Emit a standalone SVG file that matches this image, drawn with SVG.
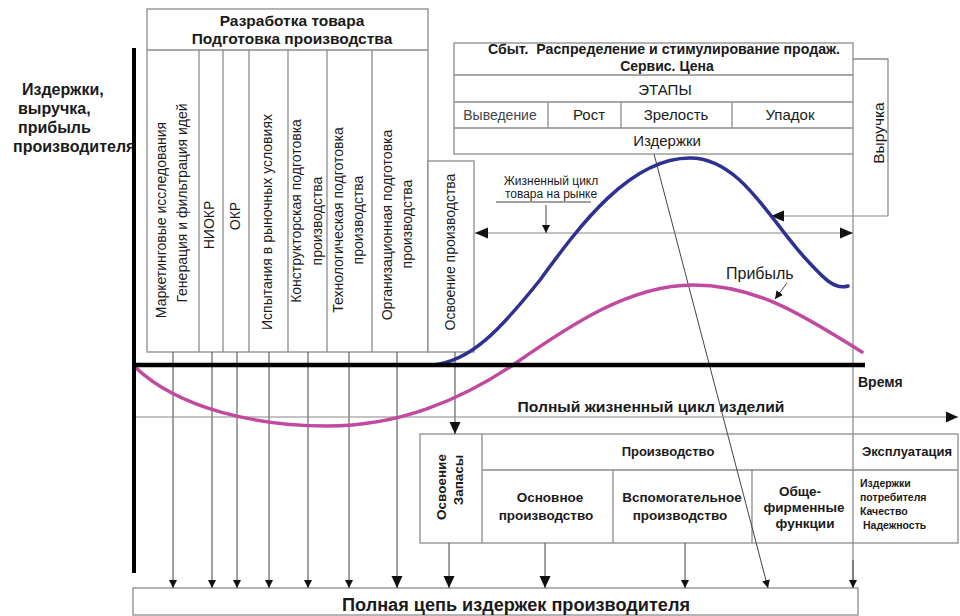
<svg xmlns="http://www.w3.org/2000/svg" width="960" height="616" viewBox="0 0 960 616">
<style>
text{font-family:"Liberation Sans",Arial,sans-serif;fill:#1a1a1a}
.b{font-weight:bold}
.box{fill:#fff;stroke:#8c8c8c;stroke-width:1.3}
.div{stroke:#8c8c8c;stroke-width:1.3;fill:none}
.ln{stroke:#444;stroke-width:1;fill:none}
.gl{stroke:#888;stroke-width:1.2;fill:none}
.rt{font-size:14px;text-anchor:middle}
.c{text-anchor:middle}
</style>
<defs>
<marker id="as" markerUnits="userSpaceOnUse" markerWidth="8" markerHeight="9" viewBox="0 0 8 9" refX="8" refY="4.5" orient="auto"><path d="M0,0.5 L8,4.5 L0,8.5 z" fill="#111"/></marker>
<marker id="ab" markerUnits="userSpaceOnUse" markerWidth="12" markerHeight="12" viewBox="0 0 12 12" refX="12" refY="6" orient="auto"><path d="M0,0.5 L12,6 L0,11.5 z" fill="#111"/></marker>
<marker id="ad" markerUnits="userSpaceOnUse" markerWidth="13" markerHeight="12" viewBox="0 0 13 12" refX="13" refY="6" orient="auto-start-reverse"><path d="M0,0.5 L13,6 L0,11.5 z" fill="#111"/></marker>
</defs>
<rect width="960" height="616" fill="#fff"/>

<g id="y-label" class="b" font-size="16">
<text x="22" y="95">Издержки,</text>
<text x="18" y="114">выручка,</text>
<text x="18" y="133">прибыль</text>
<text x="13" y="152">производителя</text>
</g>

<g id="product-development">
<rect class="box" x="147" y="9" width="281" height="343"/>
<path class="div" d="M147,50 H428 M199,50 V352 M223,50 V352 M249,50 V352 M288,50 V352 M327,50 V352 M372,50 V352"/>
<text class="b c" x="292" y="26" font-size="15.5">Разработка товара</text>
<text class="b c" x="292" y="44" font-size="15.5">Подготовка производства</text>
<text class="rt" transform="translate(166,220) rotate(-90)">Маркетинговые исследования</text>
<text class="rt" transform="translate(187,203) rotate(-90)">Генерация и фильтрация идей</text>
<text class="rt" transform="translate(214,225) rotate(-90)">НИОКР</text>
<text class="rt" transform="translate(240,216) rotate(-90)">ОКР</text>
<text class="rt" transform="translate(272,222) rotate(-90)">Испытания в рыночных условиях</text>
<text class="rt" transform="translate(301,211) rotate(-90)">Конструкторская подготовка</text>
<text class="rt" transform="translate(322,221) rotate(-90)">производства</text>
<text class="rt" transform="translate(343,220) rotate(-90)">Технологическая подготовка</text>
<text class="rt" transform="translate(363,220) rotate(-90)">производства</text>
<text class="rt" transform="translate(392,225) rotate(-90)">Организационная подготовка</text>
<text class="rt" transform="translate(412,224) rotate(-90)">производства</text>
</g>

<g id="production-start">
<rect class="box" x="428" y="161" width="46" height="191"/>
<text class="rt" transform="translate(455,252) rotate(-90)">Освоение производства</text>
</g>

<g id="market-box">
<rect class="box" x="454" y="43" width="399" height="111"/>
<path class="div" d="M454,75 H853 M454,102 H853 M454,128 H853 M548,102 V128 M621,102 V128 M732,102 V128"/>
<text class="b c" x="664" y="54" font-size="14" textLength="352" lengthAdjust="spacingAndGlyphs" xml:space="preserve">Сбыт.  Распределение и стимулирование продаж.</text>
<text class="b c" x="667" y="71" font-size="14">Сервис. Цена</text>
<text class="c" x="665" y="95" font-size="15">ЭТАПЫ</text>
<text class="c" x="500" y="120" font-size="14" style="fill:#444">Выведение</text>
<text class="c" x="589" y="120" font-size="15">Рост</text>
<text class="c" x="676" y="120" font-size="15">Зрелость</text>
<text class="c" x="790" y="120" font-size="15">Упадок</text>
<text class="c" x="667" y="146" font-size="15">Издержки</text>
</g>

<g id="revenue-box">
<path class="div" d="M853,59 H888 V216"/>
<text class="c" font-size="15.5" transform="translate(884,133) rotate(-90)">Выручка</text>
</g>

<g id="market-cycle-label">
<text class="c" x="551" y="185" font-size="12">Жизненный цикл</text>
<text class="c" x="551" y="198" font-size="12">товара на рынке</text>
</g>

<g id="profit-label">
<text x="726" y="279" font-size="16">Прибыль</text>
</g>

<g id="time-label">
<text class="b" x="858" y="387" font-size="14">Время</text>
</g>

<g id="full-cycle-label">
<text class="b c" x="651" y="412" font-size="15" textLength="267" lengthAdjust="spacingAndGlyphs">Полный жизненный цикл изделий</text>
</g>

<g id="production-box">
<rect class="box" x="420" y="434" width="538" height="109"/>
<path class="div" d="M482,434 V543 M482,470 H958 M613,470 V543 M752,470 V543 M853,434 V543"/>
<text class="b c" font-size="13.5" transform="translate(446,487) rotate(-90)">Освоение</text>
<text class="b c" font-size="13.5" transform="translate(463,480) rotate(-90)">Запасы</text>
<text class="b c" x="668" y="456" font-size="13">Производство</text>
<text class="b c" x="907" y="456" font-size="13">Эксплуатация</text>
<text class="b c" x="550" y="502" font-size="13.5">Основное</text>
<text class="b c" x="546" y="520" font-size="13.5">производство</text>
<text class="b c" x="682" y="502" font-size="13.5">Вспомогательное</text>
<text class="b c" x="680" y="520" font-size="13.5">производство</text>
<text class="b c" x="800" y="496" font-size="13.5">Обще-</text>
<text class="b c" x="804" y="512" font-size="13.5">фирменные</text>
<text class="b c" x="805" y="528" font-size="13.5">функции</text>
<text class="b" x="860" y="487" font-size="10.5">Издержки</text>
<text class="b" x="860" y="501" font-size="10.5">потребителя</text>
<text class="b" x="860" y="515" font-size="10.5">Качество</text>
<text class="b" x="863" y="529" font-size="10.5">Надежность</text>
</g>

<g id="total-chain">
<rect class="box" x="133" y="588" width="725" height="27"/>
<text class="b c" x="516" y="611" font-size="18" textLength="348" lengthAdjust="spacingAndGlyphs">Полная цепь издержек производителя</text>
</g>

<g id="connectors">
<path class="ln" d="M173,352 V588" marker-end="url(#as)"/>
<path class="ln" d="M212,352 V588" marker-end="url(#as)"/>
<path class="ln" d="M237,352 V588" marker-end="url(#as)"/>
<path class="ln" d="M269,352 V588" marker-end="url(#as)"/>
<path class="ln" d="M308,352 V588" marker-end="url(#as)"/>
<path class="ln" d="M349,352 V588" marker-end="url(#as)"/>
<path class="ln" d="M397,352 V588" marker-end="url(#ab)"/>
<path class="ln" d="M455,352 V434" marker-end="url(#ab)"/>
<path class="ln" d="M449,543 V588" marker-end="url(#ab)"/>
<path class="ln" d="M545,543 V588" marker-end="url(#ab)"/>
<path class="ln" d="M685,543 V588" marker-end="url(#as)"/>
<path class="gl" d="M853,154 V434 M853,543 V588"/>
<path class="ln" d="M853,560 V588" marker-end="url(#as)"/>
<path class="ln" d="M654,154 L768,588" marker-end="url(#as)"/>
<path class="gl" d="M475,233 H853" marker-start="url(#ad)" marker-end="url(#ad)"/>
<path class="ln" d="M546,205 V233" marker-end="url(#as)"/>
<path class="ln" d="M496,202 H591"/>
<path class="gl" d="M888,216 H771" marker-end="url(#ad)"/>
<path class="ln" d="M787,283 L775,299" marker-end="url(#as)"/>
<path class="gl" d="M136,417 H958" marker-end="url(#ab)"/>
</g>

<g id="curves" fill="none" stroke-width="3.5" stroke-linecap="round">
<path id="profit-curve" stroke="#bf4a9f" d="M135,367 C180,410 260,426 327,426 C400,426 460,400 513,365 C570,325 630,285 693,285 C760,285 810,320 862,352"/>
<path id="revenue-curve" stroke="#2e3192" d="M432,365 C470,362 500,330 540,280 C580,225 630,158 690,158 C740,158 770,220 805,258 C825,280 835,290 848,286"/>
</g>

<g id="axes" stroke="#000" fill="none">
<path d="M134,48 V573" stroke-width="4"/>
<path d="M134,365 H865" stroke-width="4.5"/>
</g>
</svg>
